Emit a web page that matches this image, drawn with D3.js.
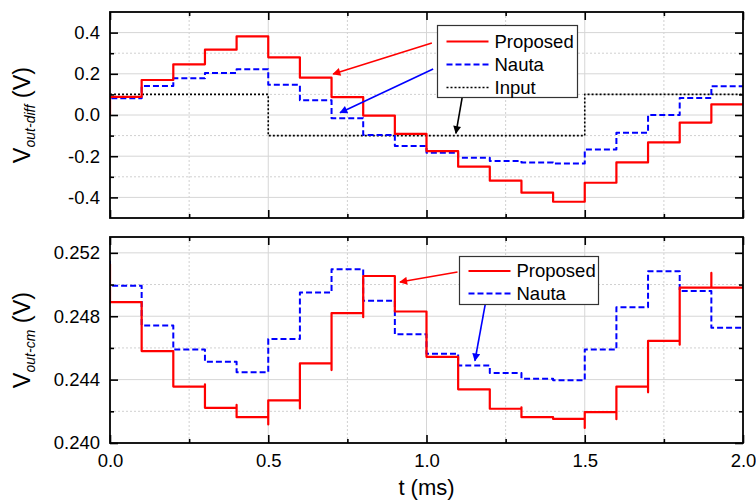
<!DOCTYPE html>
<html>
<head>
<meta charset="utf-8">
<script src="https://cdn.jsdelivr.net/npm/d3@7"></script>
<style>
  html, body { margin: 0; padding: 0; background: #fff; }
  svg { display: block; font-family: Arial, "Liberation Sans", Helvetica, sans-serif; }
</style>
</head>
<body>
<svg id="chart" width="756" height="500"></svg>
<script>
// ---------------- data ----------------
const stepTimes = [0.0, 0.1, 0.2, 0.3, 0.4, 0.5, 0.6, 0.7, 0.8, 0.9,
                   1.0, 1.1, 1.2, 1.3, 1.4, 1.5, 1.6, 1.7, 1.8, 1.9];
const endTime = 2.0;

// top panel: differential output (V)
const diffProposed = [0.088, 0.170, 0.246, 0.317, 0.382, 0.280, 0.181, 0.087, -0.003, -0.092,
                      -0.175, -0.251, -0.319, -0.377, -0.421, -0.329, -0.230, -0.133, -0.037, 0.052];
const diffNauta    = [0.081, 0.141, 0.178, 0.204, 0.222, 0.147, 0.071, -0.016, -0.097, -0.150,
                      -0.183, -0.207, -0.223, -0.230, -0.236, -0.168, -0.086, 0.000, 0.083, 0.139];
const diffInput    = [0.1, 0.1, 0.1, 0.1, 0.1, -0.1, -0.1, -0.1, -0.1, -0.1,
                      -0.1, -0.1, -0.1, -0.1, -0.1, 0.1, 0.1, 0.1, 0.1, 0.1];
const diffProposedStart = 0.0;
const diffNautaStart = 0.0;

// bottom panel: common-mode output (V)
const cmProposed = [0.24889, 0.24580, 0.24356, 0.24222, 0.24163, 0.24269, 0.24502, 0.24819, 0.25054, 0.24830,
                    0.24544, 0.24339, 0.24216, 0.24163, 0.24152, 0.24195, 0.24356, 0.24644, 0.24980, 0.24980];
// transient glitch value at the start of each step (null = none)
const cmProposedGlitch = [0.25130, null, null, 0.24370, 0.24240, 0.24117, 0.24218, 0.24460, 0.24794, null,
                          null, null, null, 0.24225, null, 0.24095, 0.24150, 0.24320, 0.24620, 0.25073];
const cmNauta    = [0.24993, 0.24741, 0.24590, 0.24512, 0.24447, 0.24656, 0.24949, 0.25097, 0.24898, 0.24686,
                    0.24563, 0.24489, 0.24441, 0.24406, 0.24396, 0.24590, 0.24857, 0.25084, 0.24959, 0.24728];
const cmNautaGlitch = [0.25150, null, null, null, null, null, null, null, null, null,
                       null, null, null, null, null, null, null, null, null, null];

// ticks
const xMajorTicks = [0.0, 0.5, 1.0, 1.5, 2.0];
const xMinorTicks = [0.25, 0.75, 1.25, 1.75];
const xTickLabels = ["0.0", "0.5", "1.0", "1.5", "2.0"];
const diffMajorTicks = [-0.4, -0.2, 0.0, 0.2, 0.4];
const diffMinorTicks = [-0.3, -0.1, 0.1, 0.3];
const diffTickLabels = ["-0.4", "-0.2", "0.0", "0.2", "0.4"];
const cmMajorTicks = [0.240, 0.244, 0.248, 0.252];
const cmMinorTicks = [0.242, 0.246, 0.250];
const cmTickLabels = ["0.240", "0.244", "0.248", "0.252"];

// legend entries
const diffLegend = ["Proposed", "Nauta", "Input"];
const cmLegend = ["Proposed", "Nauta"];

// annotation arrows (data coordinates: [t, V])
const diffArrows = [
  { key: "Proposed", from: [1.017, 0.350], to: [0.705, 0.199] },
  { key: "Nauta",    from: [1.021, 0.223], to: [0.727, 0.011] },
  { key: "Input",    from: [1.114, 0.097], to: [1.093, -0.089] }
];
const cmArrows = [
  { key: "Proposed", from: [1.098, 0.25079], to: [0.916, 0.25016] },
  { key: "Nauta",    from: [1.192, 0.24946], to: [1.153, 0.24519] }
];

// ---------------- styles ----------------
const styles = {
  Proposed: { color: "#ff0000", width: 2.2, dash: null },
  Nauta:    { color: "#0000ff", width: 2.0, dash: "6,3" },
  Input:    { color: "#000000", width: 1.6, dash: "2,2" }
};

// ---------------- layout ----------------
const svg = d3.select("#chart");
const X0 = 110, X1 = 743;
const panels = {
  diff: { top: 12, bottom: 218, domain: [-0.5, 0.5] },
  cm:   { top: 237, bottom: 443, domain: [0.240, 0.253] }
};
const x = d3.scaleLinear().domain([0, endTime]).range([X0, X1]);

const defs = svg.append("defs");
Object.entries(styles).forEach(([k, s]) => {
  defs.append("marker")
    .attr("id", "arrow-" + k)
    .attr("viewBox", "0 0 10 10")
    .attr("refX", 9).attr("refY", 5)
    .attr("markerUnits", "userSpaceOnUse")
    .attr("markerWidth", 11).attr("markerHeight", 8)
    .attr("orient", "auto")
    .append("path").attr("d", "M0,0 L10,5 L0,10 Z").attr("fill", s.color);
});

function stepPoints(levels, glitch, start) {
  const pts = [];
  stepTimes.forEach((t, i) => {
    if (i === 0) {
      if (start != null) pts.push([t, start]);
    } else {
      pts.push([t, levels[i - 1]]);
    }
    if (glitch && glitch[i] != null) pts.push([t, glitch[i]]);
    pts.push([t, levels[i]]);
  });
  pts.push([endTime, levels[levels.length - 1]]);
  return pts;
}

function drawPanel(p, opts) {
  const y = d3.scaleLinear().domain(p.domain).range([p.bottom, p.top]);
  const g = svg.append("g");
  const clipId = "clip-" + opts.name;
  defs.append("clipPath").attr("id", clipId)
    .append("rect").attr("x", X0).attr("y", p.top).attr("width", X1 - X0).attr("height", p.bottom - p.top);

  // grid
  const grid = g.append("g");
  grid.selectAll(".gmx").data(xMajorTicks.filter(d => d > 0 && d < endTime)).join("line")
    .attr("x1", d => x(d)).attr("x2", d => x(d)).attr("y1", p.top).attr("y2", p.bottom)
    .attr("stroke", "#d6d6d6").attr("stroke-width", 1);
  grid.selectAll(".gmi").data(xMinorTicks).join("line")
    .attr("x1", d => x(d)).attr("x2", d => x(d)).attr("y1", p.top).attr("y2", p.bottom)
    .attr("stroke", "#d0d0d0").attr("stroke-width", 1).attr("stroke-dasharray", "2,2");
  grid.selectAll(".gmy").data(opts.major.filter(d => y(d) > p.top + 1 && y(d) < p.bottom - 1)).join("line")
    .attr("x1", X0).attr("x2", X1).attr("y1", d => y(d)).attr("y2", d => y(d))
    .attr("stroke", "#d6d6d6").attr("stroke-width", 1);
  grid.selectAll(".gny").data(opts.minor).join("line")
    .attr("x1", X0).attr("x2", X1).attr("y1", d => y(d)).attr("y2", d => y(d))
    .attr("stroke", "#d0d0d0").attr("stroke-width", 1).attr("stroke-dasharray", "2,2");

  // series
  const line = d3.line().x(d => x(d[0])).y(d => y(d[1]));
  const sg = g.append("g").attr("clip-path", `url(#${clipId})`);
  opts.series.forEach(s => {
    const st = styles[s.key];
    sg.append("path")
      .datum(stepPoints(s.levels, s.glitch, s.start))
      .attr("d", line)
      .attr("fill", "none")
      .attr("stroke", st.color)
      .attr("stroke-width", st.width)
      .attr("stroke-dasharray", st.dash)
      .attr("stroke-linejoin", "round");
  });

  // axes (inward ticks)
  const axL = d3.axisLeft(y).tickValues(opts.major).tickSize(-8).tickPadding(10)
    .tickFormat((d, i) => opts.labels[i]);
  const axLm = d3.axisLeft(y).tickValues(opts.minor).tickSize(-4).tickFormat("");
  const axR = d3.axisRight(y).tickValues(opts.major).tickSize(-8).tickFormat("");
  const axRm = d3.axisRight(y).tickValues(opts.minor).tickSize(-4).tickFormat("");
  const axB = d3.axisBottom(x).tickValues(xMajorTicks).tickSize(-8).tickPadding(11)
    .tickFormat((d, i) => opts.showX ? xTickLabels[i] : "");
  const axBm = d3.axisBottom(x).tickValues(xMinorTicks).tickSize(-4).tickFormat("");
  const axT = d3.axisTop(x).tickValues(xMajorTicks).tickSize(-8).tickFormat("");
  const axTm = d3.axisTop(x).tickValues(xMinorTicks).tickSize(-4).tickFormat("");

  const put = (ax, tx, ty) => {
    const a = g.append("g").attr("transform", `translate(${tx},${ty})`).call(ax);
    a.select(".domain").remove();
    a.selectAll(".tick line").attr("stroke", "#000").attr("stroke-width", 1.6);
    a.selectAll("text").attr("fill", "#000").attr("font-size", 18.5)
      .attr("font-family", "Arial, 'Liberation Sans', sans-serif");
    return a;
  };
  put(axL, X0, 0);
  put(axLm, X0, 0);
  put(axR, X1, 0);
  put(axRm, X1, 0);
  put(axB, 0, p.bottom);
  put(axBm, 0, p.bottom);
  put(axT, 0, p.top);
  put(axTm, 0, p.top);

  // frame
  g.append("rect").attr("x", X0).attr("y", p.top).attr("width", X1 - X0).attr("height", p.bottom - p.top)
    .attr("fill", "none").attr("stroke", "#000").attr("stroke-width", 1.8);

  // y title
  const cy = (p.top + p.bottom) / 2;
  const t = g.append("text").attr("transform", `translate(30,${cy}) rotate(-90)`)
    .attr("text-anchor", "middle").attr("font-size", 23.5).attr("fill", "#000");
  t.append("tspan").text("V");
  t.append("tspan").attr("font-size", 14).attr("font-style", "italic").attr("dy", 5).text(opts.sub);
  t.append("tspan").attr("dy", -5).text("\u00a0(V)");

  // arrows
  opts.arrows.forEach(a => {
    const st = styles[a.key];
    g.append("line")
      .attr("x1", x(a.from[0])).attr("y1", y(a.from[1]))
      .attr("x2", x(a.to[0])).attr("y2", y(a.to[1]))
      .attr("stroke", st.color).attr("stroke-width", 1.6)
      .attr("marker-end", `url(#arrow-${a.key})`);
  });

  // legend
  const L = opts.legend;
  const lg = g.append("g");
  lg.append("rect").attr("x", L.x).attr("y", L.y).attr("width", L.w).attr("height", L.h)
    .attr("fill", "#fff").attr("stroke", "#333").attr("stroke-width", 1.2);
  L.keys.forEach((k, i) => {
    const st = styles[k];
    const yy = L.y + L.first + i * L.gap;
    lg.append("line").attr("x1", L.x + 9).attr("x2", L.x + 51).attr("y1", yy).attr("y2", yy)
      .attr("stroke", st.color).attr("stroke-width", st.width).attr("stroke-dasharray", st.dash);
    lg.append("text").attr("x", L.x + 57).attr("y", yy).attr("dy", "0.35em")
      .attr("font-size", 18.5).attr("fill", "#000").text(k);
  });
  return y;
}

drawPanel(panels.diff, {
  name: "diff",
  major: diffMajorTicks, minor: diffMinorTicks, labels: diffTickLabels,
  showX: false, sub: "out-diff",
  series: [
    { key: "Input", levels: diffInput, glitch: null, start: null },
    { key: "Nauta", levels: diffNauta, glitch: null, start: diffNautaStart },
    { key: "Proposed", levels: diffProposed, glitch: null, start: diffProposedStart }
  ],
  arrows: diffArrows,
  legend: { x: 437.5, y: 25.5, w: 140, h: 72, first: 16, gap: 23, keys: diffLegend }
});

drawPanel(panels.cm, {
  name: "cm",
  major: cmMajorTicks, minor: cmMinorTicks, labels: cmTickLabels,
  showX: true, sub: "out-cm",
  series: [
    { key: "Nauta", levels: cmNauta, glitch: cmNautaGlitch, start: null },
    { key: "Proposed", levels: cmProposed, glitch: cmProposedGlitch, start: null }
  ],
  arrows: cmArrows,
  legend: { x: 459.5, y: 256.5, w: 139, h: 48, first: 14.5, gap: 22.5, keys: cmLegend }
});

// x title
svg.append("text").attr("x", (X0 + X1) / 2).attr("y", 495).attr("text-anchor", "middle")
  .attr("font-size", 22).attr("fill", "#000").text("t (ms)");
</script>
</body>
</html>
